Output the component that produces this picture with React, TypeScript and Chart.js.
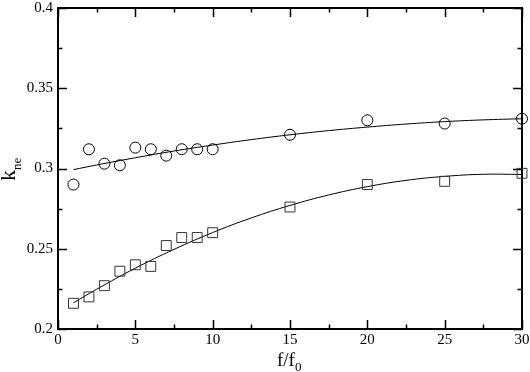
import React, { useEffect, useRef } from "react";
import { Chart, registerables } from "chart.js";

Chart.register(...registerables);

const xValues = [1, 2, 3, 4, 5, 6, 7, 8, 9, 10, 15, 20, 25, 30];
const circleValues = [0.290, 0.312, 0.303, 0.302, 0.313, 0.312, 0.308, 0.312, 0.312, 0.312, 0.321, 0.330, 0.328, 0.331];
const squareValues = [0.216, 0.220, 0.227, 0.236, 0.240, 0.239, 0.252, 0.257, 0.257, 0.260, 0.276, 0.290, 0.292, 0.297];

const fitX = [1, 2.5, 5, 7.5, 10, 12.5, 15, 17.5, 20, 22.5, 25, 27.5, 30];
const fitUpper = [0.2993, 0.3022, 0.3067, 0.3109, 0.3146, 0.318, 0.321, 0.3236, 0.3258, 0.3277, 0.3292, 0.3303, 0.331];
const fitLower = [0.2163, 0.2248, 0.2379, 0.2496, 0.2601, 0.2692, 0.277, 0.2835, 0.2887, 0.2926, 0.2951, 0.2964, 0.2963];

const xMajorTicks = [0, 5, 10, 15, 20, 25, 30];
const xMinorTicks = [2.5, 7.5, 12.5, 17.5, 22.5, 27.5];
const yMajorTicks = [0.2, 0.25, 0.3, 0.35, 0.4];
const yMinorTicks = [0.225, 0.275, 0.325, 0.375];
const yTickLabels = ["0.2", "0.25", "0.3", "0.35", "0.4"];

const FONT = "'Liberation Serif', 'DejaVu Serif', serif";

const framePlugin = {
  id: "frameTicks",
  beforeDatasetsDraw(chart: any) {
    const { ctx, chartArea, scales } = chart;
    const { left, right, top, bottom } = chartArea;
    ctx.save();
    ctx.strokeStyle = "#000";
    ctx.lineWidth = 1.5;
    const xs = scales.x;
    const ys = scales.y;
    const drawX = (v: number, len: number) => {
      const px = Math.round(xs.getPixelForValue(v)) + 0.5;
      ctx.beginPath();
      ctx.moveTo(px, bottom);
      ctx.lineTo(px, bottom - len);
      ctx.moveTo(px, top);
      ctx.lineTo(px, top + len);
      ctx.stroke();
    };
    const drawY = (v: number, len: number) => {
      const py = Math.round(ys.getPixelForValue(v)) + 0.5;
      ctx.beginPath();
      ctx.moveTo(left, py);
      ctx.lineTo(left + len, py);
      ctx.moveTo(right, py);
      ctx.lineTo(right - len, py);
      ctx.stroke();
    };
    xMajorTicks.forEach((v) => drawX(v, 9));
    xMinorTicks.forEach((v) => drawX(v, 4.5));
    yMajorTicks.forEach((v) => drawY(v, 9));
    yMinorTicks.forEach((v) => drawY(v, 4.5));
    ctx.lineWidth = 2;
    ctx.strokeRect(left, top, right - left, bottom - top);
    ctx.restore();
  },
  afterDraw(chart: any) {
    const { ctx } = chart;
    ctx.save();
    ctx.fillStyle = "#000";
    ctx.textBaseline = "alphabetic";
    ctx.textAlign = "left";
    // x title f/f0
    ctx.font = `19px ${FONT}`;
    const main = "f/f";
    const mw = ctx.measureText(main).width;
    const xStart = 277;
    ctx.fillText(main, xStart, 366);
    ctx.font = `13px ${FONT}`;
    ctx.fillText("0", xStart + mw, 371);
    // y title k_ne
    ctx.translate(15, 181);
    ctx.rotate(-Math.PI / 2);
    ctx.font = `22px ${FONT}`;
    const kw = ctx.measureText("k").width;
    ctx.fillText("k", 0, 0);
    ctx.font = `13px ${FONT}`;
    ctx.fillText("ne", kw, 6);
    ctx.restore();
  },
};

export default function App() {
  const ref = useRef<HTMLCanvasElement>(null);
  useEffect(() => {
    const canvas = ref.current;
    if (!canvas) return;
    const chart = new Chart(canvas, {
      type: "scatter",
      data: {
        datasets: [
          {
            label: "circles",
            data: xValues.map((x, i) => ({ x, y: circleValues[i] })),
            pointStyle: "circle",
            pointRadius: 5.5,
            pointBorderWidth: 1,
            borderColor: "#000",
            backgroundColor: "rgba(0,0,0,0)",
            showLine: false,
            clip: false,
          } as any,
          {
            label: "squares",
            data: xValues.map((x, i) => ({ x, y: squareValues[i] })),
            pointStyle: "rect",
            pointRadius: 7,
            pointBorderWidth: 1,
            borderColor: "#333",
            backgroundColor: "rgba(0,0,0,0)",
            showLine: false,
            clip: false,
          } as any,
          {
            label: "fit1",
            data: fitX.map((x, i) => ({ x, y: fitUpper[i] })),
            showLine: true,
            pointRadius: 0,
            borderColor: "#000",
            borderWidth: 1,
            tension: 0.4,
            backgroundColor: "rgba(0,0,0,0)",
          } as any,
          {
            label: "fit2",
            data: fitX.map((x, i) => ({ x, y: fitLower[i] })),
            showLine: true,
            pointRadius: 0,
            borderColor: "#000",
            borderWidth: 1,
            tension: 0.4,
            backgroundColor: "rgba(0,0,0,0)",
          } as any,
        ],
      },
      options: {
        animation: false,
        responsive: false,
        devicePixelRatio: 1,
        layout: { padding: { top: 5, right: 8, left: 0, bottom: 0 } },
        plugins: { legend: { display: false }, tooltip: { enabled: false } },
        scales: {
          x: {
            type: "linear",
            min: 0,
            max: 30,
            grid: { display: false, drawTicks: false },
            border: { display: false },
            ticks: {
              stepSize: 5,
              padding: 2,
              color: "#000",
              font: { family: FONT, size: 15 },
              maxRotation: 0,
            },
            afterFit(scale: any) {
              scale.height = 43;
              scale.paddingLeft = 0;
              scale.paddingRight = 0;
            },
          },
          y: {
            type: "linear",
            min: 0.2,
            max: 0.4,
            grid: { display: false, drawTicks: false },
            border: { display: false },
            ticks: {
              stepSize: 0.05,
              padding: 5,
              color: "#000",
              font: { family: FONT, size: 15 },
              callback: (_v: any, i: number) => yTickLabels[i],
            },
            afterFit(scale: any) {
              scale.width = 58;
              scale.paddingTop = 0;
              scale.paddingBottom = 0;
            },
          },
        },
      },
      plugins: [framePlugin],
    });
    return () => chart.destroy();
  }, []);
  return (
    <div style={{ position: "fixed", left: 0, top: 0, width: 530, height: 372, background: "#fff" }}>
      <canvas ref={ref} width={530} height={372} />
    </div>
  );
}
